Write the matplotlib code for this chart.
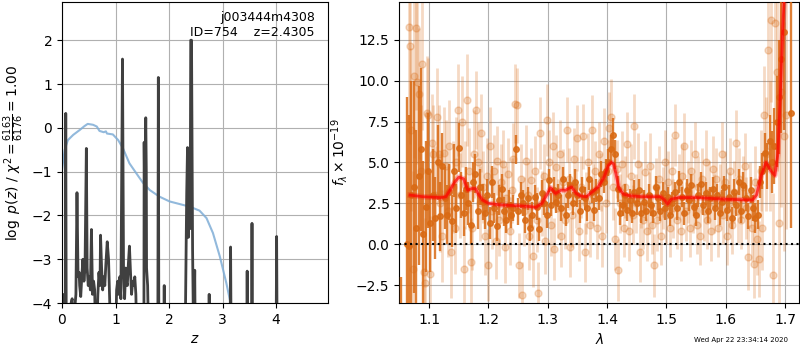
import matplotlib
matplotlib.use("Agg")
import matplotlib.pyplot as plt

# --- p(z) panel ---
pz_z = [0.00, 0.03, 0.04, 0.05, 0.06, 0.07, 0.08, 0.15, 0.17, 0.19,
        0.21, 0.24, 0.26, 0.28, 0.30, 0.32, 0.33, 0.35, 0.37, 0.39,
        0.41, 0.43, 0.455, 0.47, 0.49, 0.51, 0.53, 0.55, 0.57, 0.59,
        0.61, 0.62, 0.64, 0.67, 0.69, 0.71, 0.72, 0.74, 0.76, 0.78,
        0.80, 0.82, 0.845, 0.87, 0.89, 0.91, 1.00, 1.02, 1.04, 1.06,
        1.08, 1.10, 1.13, 1.15, 1.17, 1.19, 1.20, 1.22, 1.24, 1.26,
        1.28, 1.30, 1.32, 1.34, 1.36, 1.38, 1.40, 1.53, 1.535, 1.545,
        1.555, 1.565, 1.575, 1.58, 1.60, 1.62, 1.79, 1.80, 1.81, 1.90,
        1.91, 1.92, 2.30, 2.33, 2.345, 2.36, 2.38, 2.395, 2.405, 2.42,
        2.44, 2.46, 2.48, 2.49, 2.74, 2.75, 2.76, 3.14, 3.15, 3.16,
        3.45, 3.46, 3.47, 3.54, 3.55, 3.56, 4.00, 4.01, 4.02, 4.97]
pz_logp = [-5, -4.3, -3.8, -5, -5, 0.33, -5, -5, -4.0, -3.9,
           -5, -4.1, -3.8, -1.48, -3.4, -3.3, -3.6, -3.85, -3.4, -3.0,
           -3.5, -3.2, -0.47, -3.2, -3.6, -3.4, -3.7, -2.32, -3.8, -3.5,
           -3.7, -4.3, -5, -3.8, -3.3, -3.6, -2.45, -3.2, -3.7, -3.4,
           -3.6, -3.1, -2.6, -3.0, -3.9, -5, -5, -3.7, -3.5, -3.8,
           -3.4, -3.9, 1.57, -3.3, -3.9, -3.2, -3.5, -3.6, -3.1, -2.7,
           -3.3, -3.8, -3.5, -3.6, -3.4, -3.8, -5, -5, -0.33, -1.6,
           -0.6, 0.23, -1.0, -3.2, -3.6, -5, -5, 1.15, -5, -5,
           -3.6, -5, -5, -1.5, -0.45, -2.5, -1.8, -2.3, 2.0, 2.0,
           -2.8, -5, -3.25, -5, -5, -3.8, -5, -5, -2.72, -5,
           -5, -3.27, -5, -5, -2.18, -5, -5, -2.48, -5, -5]

prior_z = [0.0, 0.05, 0.11, 0.21, 0.33, 0.42, 0.48, 0.58, 0.65, 0.70,
           0.78, 0.82, 0.84, 0.95, 1.05, 1.14, 1.26, 1.39, 1.51, 1.64,
           1.82, 2.01, 2.20, 2.39, 2.57, 2.70, 2.82, 2.95, 3.07, 3.15, 3.2]
prior_logp = [-0.96, -0.5, -0.28, -0.16, -0.05, 0.04, 0.09, 0.07, 0.03, -0.07,
              -0.1, -0.08, -0.13, -0.15, -0.28, -0.47, -0.81, -1.04, -1.25, -1.42,
              -1.57, -1.68, -1.74, -1.80, -1.89, -2.06, -2.40, -2.94, -3.54, -4.0, -4.4]

# --- spectrum panel: darker set ---
dark_wave = [1.052,
             1.062, 1.066, 1.070, 1.074, 1.078, 1.082, 1.086, 1.090, 1.094, 1.098,
             1.102, 1.106, 1.110, 1.114, 1.118, 1.122, 1.126, 1.130, 1.134, 1.138,
             1.142, 1.146, 1.150, 1.154, 1.158, 1.162, 1.166, 1.170, 1.174, 1.178,
             1.182, 1.186, 1.190, 1.194, 1.198, 1.202, 1.206, 1.210, 1.214, 1.218,
             1.222, 1.226, 1.230, 1.234, 1.238, 1.242, 1.246, 1.250, 1.254, 1.258,
             1.262, 1.266, 1.270, 1.274, 1.278, 1.282, 1.286, 1.290, 1.294, 1.298,
             1.302, 1.306, 1.310, 1.314, 1.318, 1.322, 1.326, 1.330, 1.334, 1.338,
             1.342, 1.346, 1.350, 1.354, 1.358, 1.362, 1.366, 1.370, 1.374, 1.378,
             1.382, 1.386, 1.390, 1.394, 1.398, 1.402, 1.406, 1.410, 1.414, 1.418,
             1.422, 1.426, 1.430, 1.434, 1.438, 1.442, 1.446, 1.450, 1.454, 1.458,
             1.462, 1.466, 1.470, 1.474, 1.478, 1.482, 1.486, 1.490, 1.494, 1.498,
             1.502, 1.506, 1.510, 1.514, 1.518, 1.522, 1.526, 1.530, 1.534, 1.538,
             1.542, 1.546, 1.550, 1.554, 1.558, 1.562, 1.566, 1.570, 1.574, 1.578,
             1.582, 1.586, 1.590, 1.594, 1.598, 1.602, 1.606, 1.610, 1.614, 1.618,
             1.622, 1.626, 1.630, 1.634, 1.638, 1.642, 1.646, 1.650, 1.654, 1.658,
             1.662, 1.666, 1.670, 1.674, 1.678, 1.682, 1.686, 1.690, 1.694, 1.698,
             1.711]
dark_flux = [-10.0,
             0.0, -0.1, 3.0, 3.5, 1.0, 4.2, 5.8, 0.6, 2.3, 4.5,
             1.3, 3.0, 1.6, 5.0, 1.7, 4.8, 2.8, 1.8, 3.2, 1.4,
             4.5, 2.2, 5.9, 3.0, 1.9, 3.4, 2.5, 1.2, 3.8, 4.3,
             2.0, 3.5, 2.6, 1.9, 3.0, 1.3, 3.8, 2.2, 1.1, 2.7,
             3.4, 2.0, 1.5, 2.4, 1.8, 2.2, 5.8, 2.0, 3.0, 2.5,
             1.5, 2.8, 1.0, 1.8, 2.9, 2.3, 0.9, 3.1, 2.5, 1.8,
             3.9, 2.4, 3.3, 2.6, 3.0, 2.2, 4.0, 1.8, 3.0, 3.6,
             2.5, 3.8, 3.0, 2.0, 3.4, 2.8, 2.2, 4.0, 3.2, 2.1,
             3.3, 2.8, 4.3, 3.8, 4.5, 5.0, 5.8, 6.7, 5.5, 3.4,
             1.9, 2.4, 3.0, 2.1, 2.7, 1.9, 3.2, 2.5, 3.3, 1.9,
             2.6, 2.0, 3.0, 2.4, 1.9, 3.5, 2.8, 2.0, 3.1, 2.2,
             2.9, 1.8, 2.5, 3.2, 2.2, 3.8, 2.9, 1.9, 3.3, 2.7,
             3.6, 2.3, 1.8, 3.0, 3.7, 2.4, 3.1, 2.0, 2.8, 3.4,
             2.2, 3.0, 1.9, 2.6, 3.5, 2.1, 2.9, 1.6, 3.2, 2.4,
             3.8, 2.0, 3.6, 2.8, 1.7, 3.3, 2.2, 1.6, 1.8, 3.8,
             4.5, 5.6, 4.8, 6.3, 5.0, 6.0, 7.5, 9.0, 11.3, 13.0,
             8.0]
dark_err = [8.0,
            9, 8, 7, 6.5, 6, 5.5, 5, 4.5, 4, 3.5,
            3.0, 2.8, 2.5, 2.3, 2.1, 2.0, 1.9, 1.8, 1.7, 1.6,
            1.6, 1.5, 1.5, 1.4, 1.4, 1.3, 1.3, 1.2, 1.2, 1.2,
            1.1, 1.1, 1.1, 1.0, 1.0, 1.0, 1.0, 0.9, 0.9, 0.9,
            0.9, 0.9, 0.8, 0.9, 0.8, 0.8, 0.9, 0.8, 0.8, 0.8,
            0.8, 0.7, 0.8, 0.8, 0.7, 0.8, 0.7, 0.8, 0.7, 0.8,
            0.7, 0.7, 0.8, 0.7, 0.7, 0.8, 0.7, 0.7, 0.8, 0.7,
            0.7, 0.8, 0.7, 0.7, 0.7, 0.7, 0.8, 0.7, 0.7, 0.7,
            0.7, 0.7, 0.8, 0.7, 0.7, 0.8, 0.9, 1.0, 0.9, 0.8,
            0.7, 0.7, 0.7, 0.7, 0.7, 0.6, 0.7, 0.7, 0.7, 0.6,
            0.7, 0.6, 0.7, 0.7, 0.6, 0.7, 0.7, 0.6, 0.7, 0.7,
            0.6, 0.7, 0.7, 0.6, 0.7, 0.7, 0.6, 0.7, 0.7, 0.7,
            0.7, 0.6, 0.7, 0.7, 0.7, 0.6, 0.7, 0.7, 0.7, 0.7,
            0.7, 0.7, 0.7, 0.7, 0.7, 0.7, 0.7, 0.7, 0.8, 0.7,
            0.8, 0.7, 0.8, 0.8, 0.8, 0.8, 0.8, 0.9, 0.9, 1.0,
            1.1, 1.2, 1.4, 1.6, 1.9, 2.3, 2.8, 3.5, 4.5, 6.0,
            7.0]

# --- spectrum panel: lighter set ---
light_wave = [1.066, 1.068, 1.070, 1.072, 1.075, 1.078, 1.080, 1.083, 1.086, 1.088,
              1.091, 1.093, 1.096, 1.098, 1.101, 1.104, 1.107, 1.110, 1.113, 1.116,
              1.119, 1.122, 1.125, 1.128, 1.131, 1.134, 1.137, 1.140, 1.143, 1.146,
              1.149, 1.152, 1.155, 1.158, 1.161, 1.164, 1.167, 1.170, 1.173, 1.176,
              1.179, 1.182, 1.185, 1.188, 1.191, 1.194, 1.197, 1.200, 1.203, 1.206,
              1.209, 1.212, 1.215, 1.218, 1.221, 1.224, 1.227, 1.230, 1.233, 1.236,
              1.239, 1.242, 1.245, 1.248, 1.251, 1.254, 1.257, 1.260, 1.263, 1.266,
              1.269, 1.272, 1.275, 1.278, 1.281, 1.284, 1.287, 1.290, 1.293, 1.296,
              1.299, 1.302, 1.305, 1.308, 1.311, 1.314, 1.317, 1.320, 1.323, 1.326,
              1.329, 1.332, 1.335, 1.338, 1.341, 1.344, 1.347, 1.350, 1.353, 1.356,
              1.359, 1.362, 1.365, 1.368, 1.371, 1.374, 1.377, 1.380, 1.383, 1.386,
              1.389, 1.392, 1.395, 1.398, 1.401, 1.404, 1.407, 1.410, 1.413, 1.416,
              1.419, 1.422, 1.425, 1.428, 1.431, 1.434, 1.437, 1.440, 1.443, 1.446,
              1.449, 1.452, 1.455, 1.458, 1.461, 1.464, 1.467, 1.470, 1.473, 1.476,
              1.479, 1.482, 1.485, 1.488, 1.491, 1.494, 1.497, 1.500, 1.503, 1.506,
              1.509, 1.512, 1.515, 1.518, 1.521, 1.524, 1.527, 1.530, 1.533, 1.536,
              1.539, 1.542, 1.545, 1.548, 1.551, 1.554, 1.557, 1.560, 1.563, 1.566,
              1.569, 1.572, 1.575, 1.578, 1.581, 1.584, 1.587, 1.590, 1.593, 1.596,
              1.599, 1.602, 1.605, 1.608, 1.611, 1.614, 1.617, 1.620, 1.623, 1.626,
              1.629, 1.632, 1.635, 1.638, 1.641, 1.644, 1.647, 1.650, 1.653, 1.656,
              1.659, 1.662, 1.665, 1.668, 1.671, 1.674, 1.677, 1.680, 1.683, 1.686,
              1.690, 1.694, 1.698, 1.702]
light_flux = [13.3, 12.1, 7.0, -1.5, 10.3, 13.2, 9.9, 9.2, 4.5, 11.0,
              -1.7, -2.4, 8.0, 7.9, -1.8, 6.2, 5.5, 3.0, 7.8, 5.5,
              2.5, 0.5, 5.6, 4.8, 2.0, 6.0, -0.5, 3.5, 1.0, 5.0,
              8.2, 3.0, 7.5, -1.5, 3.6, 8.8, 4.5, -1.1, 1.0, 5.5,
              8.2, 5.0, 2.5, 6.8, 3.5, 0.5, 4.2, -1.3, 6.0, 2.0,
              4.5, 0.2, 5.1, 1.5, 3.8, 4.9, -0.2, 2.8, 4.3, 0.8,
              3.3, 5.2, 8.6, 8.5, -1.3, 4.0, -3.1, 2.0, 5.1, 3.0,
              0.5, 3.9, -0.7, 4.5, 1.5, -3.0, 6.8, 2.5, 4.2, 0.2,
              7.6, 5.0, 1.2, 6.0, -0.3, 4.7, 2.2, 5.5, 0.5, 3.8,
              1.5, 7.0, 4.0, -0.2, 1.8, 5.2, 2.8, 6.5, 0.8, 3.5,
              6.6, -0.5, 2.5, 5.0, 1.2, 7.0, 3.0, 4.5, 1.0, 5.5,
              3.8, 0.5, 6.3, 2.5, 4.5, 7.1, 7.8, 3.5, 0.3, 4.6,
              -1.6, 2.5, 4.9, 1.0, 3.5, 6.1, 0.8, 4.2, 1.8, 7.2,
              2.5, 4.9, -0.5, 3.0, 1.5, 4.4, 0.8, 2.5, 4.8, 1.2,
              -1.3, 3.5, 1.5, 4.0, 0.5, 2.8, 5.0, 1.8, 3.8, 1.0,
              4.5, 2.2, 6.7, 1.5, 3.5, 0.8, 4.2, 6.0, 2.0, 3.2,
              1.0, 4.5, 2.5, 5.5, 1.2, 3.5, 0.5, 4.0, 2.0, 5.0,
              1.5, 3.2, 0.8, 4.6, 2.5, 4.0, 1.0, 3.0, 5.5, 1.8,
              3.8, 0.5, 2.5, 4.5, 1.2, 3.2, 6.2, 2.0, 4.0, 1.5,
              3.5, 4.8, 2.2, -0.8, 3.0, 1.0, -1.2, 3.8, 0.3, -0.9,
              4.5, 1.0, 7.9, 5.5, 11.9, 6.0, 13.7, -1.9, 13.5, 10.5,
              1.3, 9.3, 6.6, 7.9]
light_err = [6, 6, 5, 6, 5, 5, 5, 4, 4, 4,
             4, 4, 3.5, 3.5, 3.5, 3, 3, 3, 3, 3,
             3, 2.8, 2.8, 2.8, 2.8, 2.8, 2.8, 2.8, 2.8, 2.8,
             2.8, 2.6, 2.8, 2.6, 2.7, 2.8, 2.6, 2.7, 2.6, 2.7,
             2.4, 2.5, 2.3, 2.4, 2.2, 2.4, 2.3, 2.2, 2.4, 2.3,
             2.2, 2.3, 2.1, 2.2, 2.3, 2.1, 2.2, 2.0, 2.2, 2.1,
             2.0, 2.2, 2.4, 2.3, 2.0, 2.1, 2.0, 2.1, 2.2, 2.0,
             2.1, 2.0, 1.9, 2.1, 2.0, 1.9, 2.2, 2.0, 1.9, 2.0,
             2.2, 2.0, 1.9, 2.1, 1.9, 2.0, 1.8, 2.1, 1.9, 2.0,
             1.8, 2.0, 1.9, 1.8, 2.0, 1.9, 1.8, 2.0, 1.8, 1.9,
             2.0, 1.8, 1.9, 1.8, 2.0, 2.1, 1.9, 1.8, 1.9, 2.0,
             1.8, 1.9, 2.0, 1.8, 1.9, 2.2, 2.3, 2.0, 1.9, 1.8,
             1.9, 1.8, 2.0, 1.8, 1.9, 2.0, 1.8, 1.9, 1.8, 2.0,
             1.8, 1.9, 1.8, 2.0, 1.8, 1.9, 1.8, 1.9, 2.0, 1.8,
             1.9, 1.8, 1.9, 2.0, 1.8, 1.9, 2.0, 1.8, 1.9, 1.8,
             2.0, 1.8, 1.9, 1.8, 2.0, 1.8, 1.9, 2.0, 1.8, 1.9,
             1.8, 1.9, 1.8, 2.0, 1.8, 1.9, 1.8, 1.9, 1.8, 2.0,
             1.8, 1.9, 1.8, 2.0, 1.8, 1.9, 1.8, 1.9, 2.0, 1.8,
             1.9, 1.8, 1.9, 2.0, 1.8, 1.9, 2.0, 1.9, 1.9, 1.8,
             1.9, 2.0, 1.9, 2.0, 2.0, 2.0, 2.1, 2.2, 2.2, 2.3,
             2.5, 2.6, 3, 3.5, 4, 4, 5, 5, 6, 6,
             7, 7, 7, 7]

# best-fit model
model_wave = [1.068, 1.09, 1.12, 1.128, 1.135, 1.143, 1.15, 1.158, 1.165, 1.172,
              1.178, 1.184, 1.19, 1.20, 1.22, 1.25, 1.27, 1.28, 1.29, 1.298,
              1.305, 1.313, 1.322, 1.33, 1.34, 1.348, 1.355, 1.365, 1.375, 1.385,
              1.395, 1.402, 1.407, 1.411, 1.415, 1.42, 1.428, 1.44, 1.46, 1.49,
              1.497, 1.502, 1.508, 1.52, 1.55, 1.60, 1.645, 1.652, 1.66, 1.668,
              1.676, 1.683, 1.688, 1.692, 1.696, 1.70]
model_flux = [3.0, 2.9, 2.85, 2.9, 3.3, 3.8, 4.1, 4.0, 3.3, 3.4,
              3.4, 3.0, 2.7, 2.5, 2.4, 2.35, 2.3, 2.25, 2.5, 3.0,
              3.45, 3.1, 3.3, 3.3, 3.5, 3.1, 2.95, 2.9, 3.2, 3.5,
              4.1, 4.8, 5.0, 4.9, 4.3, 3.4, 3.05, 2.95, 2.9, 2.9,
              2.7, 2.45, 2.75, 2.85, 2.85, 2.75, 2.7, 3.0, 4.2, 5.0,
              4.5, 4.2, 5.5, 9.0, 13.0, 16.0]

fig = plt.figure(figsize=(8, 3.5), dpi=100)
ax1 = fig.add_axes([0.0775, 0.134, 0.3325, 0.86])
ax2 = fig.add_axes([0.499, 0.134, 0.5, 0.86])

ax1.plot(prior_z, prior_logp, color='#7fadd6', lw=1.5, alpha=0.85)
ax1.plot(pz_z, pz_logp, color='#404040', lw=2)
ax1.set_xlim(0, 4.97)
ax1.set_ylim(-4, 2.87)
ax1.set_xticks([0, 1, 2, 3, 4])
ax1.set_yticks([-4, -3, -2, -1, 0, 1, 2])
ax1.set_xlabel('$z$')
ax1.set_ylabel(r'$\log\ p(z)$ / $\chi^2=\frac{6163}{6176}=1.00$')
ax1.grid(True)
ax1.text(0.95, 0.97, 'j003444m4308\nID=754    z=2.4305', ha='right', va='top',
         transform=ax1.transAxes, fontsize=9)

orange = '#d96a14'
ax2.errorbar(light_wave, light_flux, yerr=light_err, marker='o', ms=5, ls='none',
             color=orange, alpha=0.25, elinewidth=2, zorder=2)
ax2.errorbar(dark_wave, dark_flux, yerr=dark_err, marker='o', ms=4, ls='none',
             color=orange, alpha=0.85, elinewidth=1.7, zorder=3)
ax2.plot(model_wave, model_flux, color='r', lw=4, alpha=0.25, zorder=4)
ax2.plot(model_wave, model_flux, color='r', lw=2, alpha=0.7, zorder=5)
ax2.axhline(0, color='k', ls=':', lw=1.5, zorder=6)
ax2.set_xlim(1.0494, 1.724)
ax2.set_ylim(-3.6, 14.8)
ax2.set_xticks([1.1, 1.2, 1.3, 1.4, 1.5, 1.6, 1.7])
ax2.set_yticks([-2.5, 0.0, 2.5, 5.0, 7.5, 10.0, 12.5])
ax2.set_xlabel(r'$\lambda$')
ax2.set_ylabel(r'$f_\lambda\times10^{-19}$')
ax2.grid(True)

fig.text(0.985, 0.029, 'Wed Apr 22 23:34:14 2020', ha='right', va='center', fontsize=5)

fig.savefig('out.png', dpi=100)
